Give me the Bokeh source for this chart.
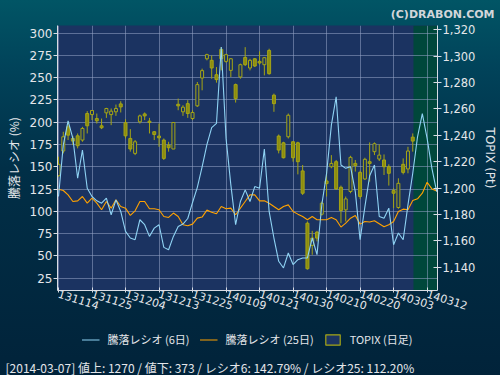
from bokeh.plotting import figure
from bokeh.layouts import column
from bokeh.models import (Range1d, LinearAxis, FixedTicker, BoxAnnotation, Title,
                          Legend, LegendItem, ColumnDataSource, NumeralTickFormatter)
from bokeh.embed import file_html
from bokeh.resources import INLINE

# ---------------- data ----------------
tick_labels = ["131114", "131125", "131204", "131213", "131225", "140109",
               "140121", "140130", "140210", "140220", "140303", "140312"]
left_ticks = [25, 50, 75, 100, 125, 150, 175, 200, 225, 250, 275, 300]
right_ticks = [1140, 1160, 1180, 1200, 1220, 1240, 1260, 1280, 1300, 1320]

# 騰落レシオ (6日)
ratio6 = [116.7, 174.4, 201.6, 181.9, 137.2, 168.8, 126.0, 116.7, 111.8, 109.2,
          114.8, 96.2, 112.9, 99.9, 77.5, 70.1, 68.2, 90.6, 85.0, 71.9,
          81.2, 85.0, 59.6, 57.0, 71.9, 83.1, 85.7, 92.0, 110.0, 127.0,
          150.0, 175.0, 194.0, 198.7, 284.4, 181.9, 129.7, 85.0, 111.1, 124.1,
          111.1, 127.8, 126.0, 170.0, 99.9, 70.1, 44.0, 36.5, 53.3, 40.3,
          45.8, 47.7, 47.7, 70.1, 51.4, 107.3, 142.7, 196.8, 228.5, 152.1,
          148.3, 150.2, 122.2, 68.2, 105.0, 140.0, 152.1, 94.3, 92.4, 103.6,
          62.6, 75.7, 68.2, 107.3, 142.8, 183.7, 209.8, 181.9, 148.3, 122.2]

# 騰落レシオ (25日)
ratio25 = [124.9, 123.4, 118.5, 111.1, 111.8, 116.7, 109.2, 114.8, 109.2, 101.8,
           111.1, 103.6, 112.9, 105.5, 103.6, 95.4, 100.6, 111.1, 111.1, 102.9,
           102.9, 101.8, 94.3, 93.2, 98.1, 94.3, 85.0, 83.9, 85.7, 92.4,
           93.6, 101.4, 99.1, 97.3, 105.5, 102.9, 103.6, 96.2, 103.6, 111.1,
           118.5, 118.5, 111.8, 111.8, 109.2, 105.5, 101.8, 105.5, 107.3, 99.9,
           96.9, 94.3, 90.6, 94.3, 90.6, 90.6, 90.6, 93.2, 90.6, 82.4,
           86.8, 92.4, 95.4, 85.7, 88.7, 88.0, 89.5, 86.1, 82.7, 85.0,
           88.7, 99.9, 102.5, 101.8, 112.2, 114.1, 120.4, 132.7, 125.2, 123.0]

# TOPIX (日足)
topix_open = [1209.4, 1228.1, 1246.4, 1237.6, 1239.6, 1236.4, 1256.5, 1255.7, 1252.7, 1247.2,
              1257.0, 1255.7, 1257.8, 1263.8, 1249.5, 1237.6, 1226.3, 1250.2, 1256.2, 1250.7,
              1242.7, 1239.4, 1236.4, 1232.6, 1229.6, 1263.5, 1257.8, 1264.0, 1252.7, 1262.3,
              1283.4, 1298.0, 1296.8, 1285.9, 1305.1, 1296.0, 1289.2, 1278.4, 1284.2, 1299.0,
              1291.0, 1298.0, 1296.0, 1293.5, 1304.3, 1270.4, 1239.4, 1234.3, 1238.9, 1235.1,
              1234.3, 1213.0, 1173.4, 1156.6, 1166.6, 1180.2, 1205.4, 1216.2, 1220.0, 1200.6,
              1183.5, 1197.4, 1218.7, 1211.9, 1206.9, 1220.0, 1227.6, 1222.0, 1221.3, 1216.2,
              1198.1, 1185.3, 1218.0, 1214.5, 1238.6]
topix_high = [1223.8, 1242.7, 1250.2, 1239.6, 1241.4, 1246.4, 1258.3, 1259.0, 1256.5, 1252.7,
              1260.8, 1260.3, 1263.3, 1265.8, 1252.2, 1244.7, 1236.4, 1255.7, 1257.3, 1253.2,
              1243.2, 1248.9, 1237.6, 1235.1, 1249.7, 1267.8, 1262.8, 1266.6, 1259.0, 1280.4,
              1290.5, 1301.8, 1300.5, 1291.7, 1306.8, 1301.8, 1298.5, 1279.2, 1294.3, 1306.8,
              1298.0, 1298.5, 1303.6, 1299.3, 1305.6, 1271.6, 1240.6, 1235.1, 1256.5, 1235.6,
              1235.1, 1217.5, 1174.7, 1167.6, 1167.6, 1189.8, 1212.5, 1225.0, 1221.3, 1201.9,
              1193.6, 1224.5, 1221.3, 1213.2, 1223.0, 1234.6, 1234.6, 1233.1, 1225.5, 1218.0,
              1199.9, 1207.4, 1222.5, 1231.3, 1241.4]
topix_low = [1208.7, 1226.3, 1236.4, 1232.6, 1230.1, 1235.1, 1241.4, 1251.5, 1248.9, 1244.7,
             1253.2, 1247.7, 1254.7, 1257.3, 1237.6, 1227.6, 1225.0, 1248.9, 1251.5, 1241.4,
             1236.4, 1231.3, 1221.3, 1227.6, 1229.6, 1259.0, 1254.7, 1253.2, 1251.5, 1261.5,
             1274.1, 1296.8, 1282.9, 1279.9, 1289.2, 1295.0, 1284.2, 1264.8, 1282.9, 1292.5,
             1289.2, 1291.7, 1293.5, 1285.4, 1285.9, 1257.8, 1226.3, 1222.5, 1237.6, 1220.0,
             1210.4, 1194.8, 1138.2, 1149.5, 1159.6, 1179.2, 1193.6, 1215.0, 1198.6, 1173.4,
             1174.7, 1196.1, 1212.5, 1191.8, 1206.2, 1204.9, 1225.0, 1220.5, 1209.9, 1201.9,
             1184.8, 1184.3, 1210.4, 1211.2, 1227.6]
topix_close = [1218.0, 1238.9, 1240.1, 1235.6, 1232.1, 1245.2, 1247.2, 1258.8, 1251.0, 1245.7,
               1260.3, 1258.3, 1260.3, 1261.5, 1239.6, 1229.6, 1235.1, 1254.7, 1254.7, 1249.7,
               1240.6, 1238.1, 1222.5, 1230.6, 1249.7, 1262.3, 1261.3, 1256.5, 1257.3, 1278.4,
               1289.0, 1301.1, 1291.0, 1282.2, 1298.0, 1301.1, 1298.0, 1267.8, 1293.5, 1293.5,
               1296.8, 1292.5, 1294.8, 1298.8, 1286.7, 1264.0, 1228.8, 1223.0, 1255.2, 1223.0,
               1220.0, 1196.1, 1138.9, 1162.1, 1162.1, 1188.5, 1203.4, 1218.7, 1199.4, 1183.0,
               1191.8, 1223.3, 1217.0, 1193.6, 1221.8, 1218.7, 1233.6, 1225.0, 1216.2, 1211.2,
               1196.1, 1203.6, 1211.9, 1228.1, 1235.6]

copyright_text = "(C)DRABON.COM"
left_title = "騰落レシオ (%)"
right_title = "TOPIX (Pt)"
legend_labels = ["騰落レシオ (6日)", "騰落レシオ (25日)", "TOPIX (日足)"]
footer_text = "[2014-03-07]  値上: 1270 / 値下: 373 / レシオ6: 142.79% / レシオ25: 112.20%"

# ---------------- styling ----------------
PLOT_BG = "#1b3361"
GRID = "#93a3c6"
TXT = "#e4e6ea"
AXIS = "#d8dce4"
BLUE = "#8fd3f4"
ORANGE = "#ffa200"
OLIVE_LINE = "#a6a614"
OLIVE_FILL = "#8c8c10"
JP = "Noto Sans CJK JP"
NUM = "DejaVu Sans"
NAN = float("nan")

W = 500
TOP_H = 322
BOT_H = 375 - TOP_H
B_LEFT, B_RIGHT = 57, 62

# ================= main chart =================
p = figure(width=W, height=TOP_H,
           x_range=Range1d(-0.21, 79.17), y_range=Range1d(11.2, 308.6),
           output_backend="svg", toolbar_location=None,
           min_border_left=B_LEFT, min_border_right=B_RIGHT, min_border_top=24,
           min_border_bottom=TOP_H - 290,
           background_fill_color=PLOT_BG, border_fill_color=None, outline_line_color=None)
p.extra_y_ranges = {"topix": Range1d(1122.4, 1323.2)}

tick_pos = [7 * i for i in range(len(tick_labels))]

p.xgrid.ticker = FixedTicker(ticks=tick_pos)
p.ygrid.ticker = FixedTicker(ticks=left_ticks)
for g in (p.xgrid, p.ygrid):
    g.grid_line_color = GRID
    g.grid_line_alpha = 0.55
    g.grid_line_width = 1

last_idx = len(topix_close) - 1
p.add_layout(BoxAnnotation(left=last_idx + 0.15, fill_color="#00473b", fill_alpha=1.0,
                           line_alpha=0, level="image"))

xs = list(range(len(topix_close)))
up = [c >= o for o, c in zip(topix_open, topix_close)]
src_up = ColumnDataSource(dict(
    x=[x for x, u in zip(xs, up) if u],
    top=[max(o, c) for o, c, u in zip(topix_open, topix_close, up) if u],
    bottom=[min(o, c) for o, c, u in zip(topix_open, topix_close, up) if u]))
src_dn = ColumnDataSource(dict(
    x=[x for x, u in zip(xs, up) if not u],
    top=[max(o, c) for o, c, u in zip(topix_open, topix_close, up) if not u],
    bottom=[min(o, c) for o, c, u in zip(topix_open, topix_close, up) if not u]))
p.segment(x0=xs, y0=topix_low, x1=xs, y1=topix_high, y_range_name="topix",
          line_color=OLIVE_LINE, line_width=1)
p.vbar(x="x", top="top", bottom="bottom", width=0.62, source=src_up,
       y_range_name="topix", fill_color=PLOT_BG, line_color=OLIVE_LINE, line_width=1)
p.vbar(x="x", top="top", bottom="bottom", width=0.62, source=src_dn,
       y_range_name="topix", fill_color=OLIVE_FILL, line_color=OLIVE_LINE, line_width=1)

p.line(list(range(len(ratio25))), ratio25, line_color=ORANGE, line_width=1.1)
p.line(list(range(len(ratio6))), ratio6, line_color=BLUE, line_width=1.1)

la = p.yaxis[0]
la.ticker = FixedTicker(ticks=left_ticks)
la.axis_line_color = AXIS
la.major_tick_line_color = AXIS
la.major_tick_out = 4
la.major_tick_in = 0
la.minor_tick_line_color = None
la.major_label_standoff = 1
la.major_label_text_color = TXT
la.major_label_text_font = NUM
la.major_label_text_font_size = "12px"
la.axis_label = left_title
la.axis_label_text_font = JP
la.axis_label_text_font_style = "normal"
la.axis_label_text_font_size = "12px"
la.axis_label_text_color = TXT
la.axis_label_standoff = 5

ra = LinearAxis(y_range_name="topix", ticker=FixedTicker(ticks=right_ticks),
                formatter=NumeralTickFormatter(format="0,0"))
ra.axis_line_color = AXIS
ra.major_tick_line_color = AXIS
ra.major_tick_out = 4
ra.major_tick_in = 4
ra.minor_tick_line_color = None
ra.major_label_standoff = 1
ra.major_label_text_color = TXT
ra.major_label_text_font = NUM
ra.major_label_text_font_size = "11.5px"
ra.axis_label = right_title
ra.axis_label_text_font = NUM
ra.axis_label_text_font_style = "normal"
ra.axis_label_text_font_size = "12px"
ra.axis_label_text_color = TXT
ra.axis_label_standoff = 5
p.add_layout(ra, "right")

ba = p.xaxis[0]
ba.ticker = FixedTicker(ticks=tick_pos)
ba.major_label_overrides = {tp: tl for tp, tl in zip(tick_pos, tick_labels)}
ba.major_label_orientation = -0.3
ba.axis_line_color = AXIS
ba.major_tick_line_color = AXIS
ba.major_tick_out = 2
ba.major_tick_in = 3
ba.minor_tick_line_color = None
ba.major_label_standoff = 1
ba.major_label_text_color = TXT
ba.major_label_text_font = NUM
ba.major_label_text_font_size = "11px"

p.add_layout(Title(text=copyright_text, align="right", offset=-57, text_color="#d2d6da",
                   text_font=NUM, text_font_style="bold", text_font_size="11px",
                   standoff=10), "above")

# ================= strip below: legend and footer =================
q = figure(width=W, height=BOT_H, x_range=Range1d(0, 1), y_range=Range1d(0, 1),
           output_backend="svg", toolbar_location=None,
           min_border_left=B_LEFT, min_border_right=B_RIGHT, min_border_top=0,
           min_border_bottom=15,
           background_fill_color=None, border_fill_color=None, outline_line_color=None)
q.xaxis.visible = False
q.yaxis.visible = False
q.grid.visible = False

# legend swatch renderers (hold no drawable values; they only supply the icons)
l6 = q.line(x=[0.5, 0.6], y=[NAN, NAN], line_color=BLUE, line_width=1.2)
l25 = q.line(x=[0.5, 0.6], y=[NAN, NAN], line_color=ORANGE, line_width=1.2)
lc = q.vbar(x=[0.5], top=[NAN], bottom=[NAN], width=0.6,
            fill_color=PLOT_BG, line_color=OLIVE_LINE, line_width=1.2)
legend = Legend(items=[LegendItem(label=legend_labels[0], renderers=[l6]),
                       LegendItem(label=legend_labels[1], renderers=[l25]),
                       LegendItem(label=legend_labels[2], renderers=[lc])],
                location="center", orientation="horizontal",
                background_fill_alpha=0, border_line_alpha=0,
                label_text_color=TXT, label_text_font=JP, label_text_font_size="11px",
                glyph_width=18, glyph_height=13, label_standoff=8, spacing=10,
                padding=0, margin=0, label_height=16)
q.add_layout(legend)

q.add_layout(Title(text=footer_text, align="left", offset=-52, text_color=TXT,
                   text_font=JP, text_font_style="normal", text_font_size="12px",
                   standoff=0), "below")

layout = column(p, q, spacing=0)
layout.styles = {"background": "linear-gradient(to bottom, #015565 0%, #01435a 18%, #012f47 45%, #01233a 100%)"}

open("out.html", "w").write(file_html(layout, INLINE))
